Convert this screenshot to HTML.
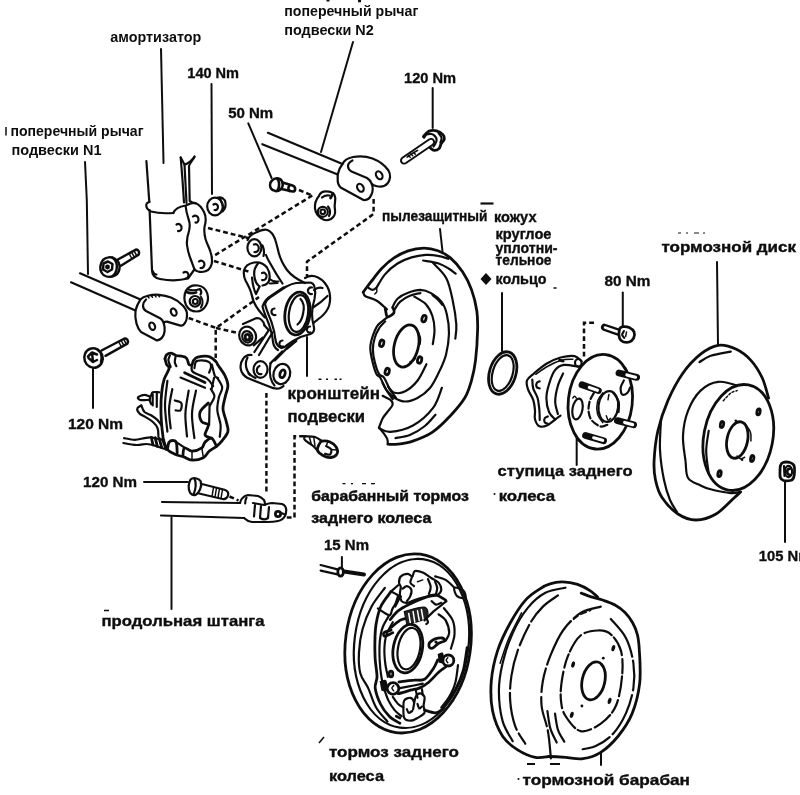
<!DOCTYPE html>
<html><head><meta charset="utf-8"><title>Rear suspension</title>
<style>
html,body{margin:0;padding:0;background:#fff;}
body{width:800px;height:795px;overflow:hidden;font-family:"Liberation Sans",sans-serif;}
svg{display:block;}
text{font-family:"Liberation Sans",sans-serif;fill:#111;}
.t{font-size:14.3px;font-weight:bold;}
.b{font-size:14.6px;font-weight:bold;stroke:#111;stroke-width:.35px;}
.bb{font-size:15.5px;font-weight:bold;stroke:#111;stroke-width:.4px;}
.bk{font-size:17px;font-weight:bold;stroke:#111;stroke-width:.4px;}
.bx{font-size:15.5px;font-weight:bold;stroke:#111;stroke-width:.5px;}
.l{stroke:#111;stroke-width:2.0;fill:none;stroke-linecap:round;stroke-linejoin:round;}
.m{stroke:#111;stroke-width:2.2;fill:none;stroke-linecap:round;stroke-linejoin:round;}
.h{stroke:#111;stroke-width:2.8;fill:none;stroke-linecap:round;stroke-linejoin:round;}
.n{stroke:#111;stroke-width:1.5;fill:none;stroke-linecap:round;stroke-linejoin:round;}
.d{stroke:#111;stroke-width:2.5;fill:none;stroke-dasharray:4.800 3;}
.w{fill:#fff;}
.k{fill:#111;}
</style></head><body>
<svg width="800" height="795" viewBox="0 0 800 795">
<defs><filter id="soft" filterUnits="userSpaceOnUse" x="0" y="0" width="800" height="795"><feGaussianBlur stdDeviation="0.45"/></filter></defs>
<rect width="800" height="795" fill="#fff"/>
<g filter="url(#soft)">

<!-- ===== TEXT ===== -->
<g id="labels">
<path d="M328 0 v1.500 M359.500 0 v2.300" stroke="#111" stroke-width="3"/>
<text class="t" x="284.3" y="16" textLength="134" lengthAdjust="spacingAndGlyphs">поперечный рычаг</text>
<text class="t" x="284.3" y="34.5" textLength="89.5" lengthAdjust="spacingAndGlyphs">подвески N2</text>
<text class="t" x="110.3" y="42" textLength="91" lengthAdjust="spacingAndGlyphs">амортизатор</text>
<text class="b" x="187.3" y="77.800" textLength="51.700" lengthAdjust="spacingAndGlyphs">140 Nm</text>
<text class="b" x="228.2" y="118" textLength="45" lengthAdjust="spacingAndGlyphs">50 Nm</text>
<text class="b" x="404" y="83" textLength="52" lengthAdjust="spacingAndGlyphs">120 Nm</text>
<path d="M6 127 v8.500" stroke="#111" stroke-width="1.500"/>
<text class="t" x="10.5" y="135.500" textLength="133" lengthAdjust="spacingAndGlyphs">поперечный рычаг</text>
<text class="t" x="11.5" y="154.800" textLength="90" lengthAdjust="spacingAndGlyphs">подвески N1</text>
<text class="b" x="68" y="429" textLength="55" lengthAdjust="spacingAndGlyphs">120 Nm</text>
<text class="b" x="83" y="487" textLength="54" lengthAdjust="spacingAndGlyphs">120 Nm</text>
<text class="bb" x="101.500" y="625.700" textLength="163" lengthAdjust="spacingAndGlyphs">продольная штанга</text>
<path d="M104 610.500 h5" stroke="#111" stroke-width="1.500"/>
<path d="M318.500 379.300 h3 M326 379.300 h2 M334.500 379.300 h2.500 M339.500 379.300 h2" stroke="#111" stroke-width="1.400"/>
<text class="bk" x="287.500" y="398.700" textLength="92.500" lengthAdjust="spacingAndGlyphs">кронштейн</text>
<text class="bk" x="287.500" y="422" textLength="77.500" lengthAdjust="spacingAndGlyphs">подвески</text>
<text class="bx" x="311.300" y="501.200" textLength="157.500" lengthAdjust="spacingAndGlyphs">барабанный тормоз</text>
<text class="bx" x="311.300" y="523" textLength="120" lengthAdjust="spacingAndGlyphs">заднего колеса</text>
<path d="M342.500 483.700 h3 M351 483.700 h2 M362 483.700 h4 M371 483.700 h4" stroke="#111" stroke-width="1.300"/>
<text class="b" x="324" y="549.500" textLength="45" lengthAdjust="spacingAndGlyphs">15 Nm</text>
<text class="bb" x="382" y="220.500" textLength="105.500" lengthAdjust="spacingAndGlyphs">пылезащитный</text>
<text class="bb" x="494" y="222" textLength="42.500" lengthAdjust="spacingAndGlyphs">кожух</text>
<path d="M480.500 203.500 H493.500" stroke="#111" stroke-width="2.200"/>
<text class="bb" x="495.500" y="239" textLength="56" lengthAdjust="spacingAndGlyphs">круглое</text>
<text class="bb" x="495.500" y="252.500" textLength="62" lengthAdjust="spacingAndGlyphs">уплотни-</text>
<text class="bb" x="495.500" y="265" textLength="56" lengthAdjust="spacingAndGlyphs">тельное</text>
<text class="bb" x="495.500" y="283.500" textLength="51" lengthAdjust="spacingAndGlyphs">кольцо</text>
<path class="k" d="M486 273 L491.500 279 L486 285 L480.500 279Z"/>
<path d="M553.500 288 h3" stroke="#111" stroke-width="1.500"/>
<text class="b" x="604.500" y="285.600" textLength="46" lengthAdjust="spacingAndGlyphs">80 Nm</text>
<text class="bb" x="661.500" y="251.500" textLength="134.500" lengthAdjust="spacingAndGlyphs">тормозной диск</text>
<path d="M678 233 h3 M686 233 h2 M694 233 h5 M703 233 h2" stroke="#111" stroke-width="1.200"/>
<text class="bb" x="497.500" y="476.300" textLength="135" lengthAdjust="spacingAndGlyphs">ступица заднего</text>
<text class="bb" x="498.700" y="500.500" textLength="56.500" lengthAdjust="spacingAndGlyphs">колеса</text>
<circle class="k" cx="494.500" cy="494" r="1"/>
<text class="b" x="758.8" y="561" textLength="52.5" lengthAdjust="spacingAndGlyphs">105 Nm</text>
<text class="bb" x="329" y="756.500" textLength="130" lengthAdjust="spacingAndGlyphs">тормоз заднего</text>
<text class="bb" x="329" y="781" textLength="55" lengthAdjust="spacingAndGlyphs">колеса</text>
<path d="M324 737 l-5 6" stroke="#111" stroke-width="1.500"/>
<text class="bb" x="522.500" y="784.500" textLength="167.500" lengthAdjust="spacingAndGlyphs">тормозной барабан</text>
<path d="M527 764 h8 M550 764 h10" stroke="#111" stroke-width="1.800"/>
<circle class="k" cx="518.500" cy="779" r="1"/>
</g>

<!-- ===== LEADERS ===== -->
<g id="leaders" class="l">
<path d="M161 49 L163.5 163"/>
<path d="M85 162 L86.8 200 L88 274"/>
<path d="M211.5 84 L212 194"/>
<path d="M248.3 123.3 L271.6 178"/>
<path d="M353 42 L321 152"/>
<path d="M432.7 88 V128"/>
<path d="M440 229 L442.5 251.5"/>
<path d="M502 293 V351"/>
<path d="M622.8 292.6 V326"/>
<path d="M717 262 L718 345"/>
<path d="M785 481 V542"/>
<path d="M576.7 436 V465"/>
<path d="M307 337 V376"/>
<path d="M93 368.5 V408"/>
<path d="M144 482 H188"/>
<path d="M171.5 517.5 V609"/>
<path d="M341.9 557 V568"/>
<path d="M601 752 V765"/>
</g>

<!-- ===== DASHED ===== -->
<g id="dashed" class="d">
<path d="M312.3 195.500 L212 257"/>
<path d="M299 190 L312.300 195.500"/>
<path d="M208 228 L248 238"/>
<path d="M214 261 L250 272"/>
<path d="M373.6 199 V214 L307 261.6 V276"/>
<path d="M188.7 318 L216 328 L259 297"/>
<path d="M216 328 L238 333"/>
<path d="M215.7 330 V358"/>
<path d="M266.4 393 V494"/>
<path d="M229.500 496.500 L238.500 500.500"/>
<path d="M304 436.300 H294.500 V517.500 H285"/>
<path d="M594 322.8 H584 V358"/>
</g>

<!-- shock absorber -->
<g id="shock" class="m">
<path d="M146.4 161 L149.3 202"/>
<path d="M149.5 202 C144.5 203 145.5 209 151 211.5 C158 213.5 166 213.5 173.3 213"/>
<path d="M149.6 210 L152 270 C152 275 155 278 160 279 C168 280.5 180 280.5 188 278.5 L194 270"/>
<path d="M173.3 213 C175 208.5 180 206.5 185.6 205.5 C189 204 192 202.5 195.4 203 C199 204.5 202 208 204 212 C206.5 217 206 222 204.5 227 C204 231 204.5 235 205.5 239 C207 244 209.5 248 210.5 252 C212 256.500 212.5 261 211.500 264.500 C210.500 268.500 207 271.500 202 272 C198.500 272 196 271 194.500 269.500"/>
<path d="M185.6 206 C186 210 187 214.500 188.5 219 C190 223 190 227 189 231 C187.5 235.500 186.500 240 187 245 C187.5 250 189 255 191 260 C192.500 264 193.500 267 194.600 269.500"/>
<path d="M180.7 157.500 L182.500 180 L184 202.500"/>
<path d="M180.7 157.500 L184.500 164.500 L186.500 203"/>
<path d="M184.500 164.500 C188 164 192.500 160 194.500 156.500"/>
<path d="M194.500 157 C192 161 189.500 164 189 166 L189.700 201 C192 202.500 193.500 203 195.400 203.500"/>
<path d="M176.500 224.500 C179 223 182 225 181.500 228.500 C181 230.500 179.500 231.500 178 231"/>
<path d="M193 216.500 C195.500 214.500 198.500 216 198.500 219.500 C198.500 221.500 197 223 195.500 222.500"/>
<path d="M199 261.500 C201.500 259.500 204.500 261.500 204.500 264.500 C204 267 202.500 268.500 200.500 268"/>
<path d="M183.500 272.500 C186 271 188.500 272.500 188.500 275.500 C188 277.500 187 278.500 185.500 278.500"/>
<path d="M152.500 271 C153.500 273.500 155 274.500 156.500 274.500"/>
</g>
<!-- nut 140 -->
<g id="nut140" class="m">
<ellipse cx="215" cy="206.500" rx="7.800" ry="8.800" class="w"/>
<path d="M217 197.800 C221 196.500 225 198.500 225.500 203 C226 207 224 210 222.500 211.500"/>
<path d="M220 198 L223.500 208"/>
<path d="M213.500 204.500 C215.500 203 218 204.500 218 207 C218 209 216.500 210.500 214.500 210"/>
</g>
<!-- rod N2 -->
<g id="rodN2" class="m">
<path d="M267.9 132.800 L342.500 164"/>
<path d="M262.300 144.200 L337.700 174.500"/>
<path d="M342.500 164 C344 160.500 348 158 353 157 C359 156 367 156.500 372.500 158.500 C379 161 385 165.500 388.500 170.500 C391 174.500 390.500 180 387.500 183.500 C385 186.500 380 187 376 186 C374 185.500 372.500 184.500 371.700 183.800 C373 187 373 191 371.500 194.500 C370 198 367 200.500 363.500 200 L340.600 187.500 C338.500 185.500 337.500 182 337.700 179 L337.700 174.500 C338.500 171 340 167 342.500 164Z"/>
<path d="M352.500 160.500 C349.500 162 347.800 164.500 348 166.500 C348.300 169 349.500 170.500 351.500 171.500 L367 178 C369.500 179.500 371 181.500 371.700 183.800"/>
<ellipse cx="379.200" cy="175.300" rx="3" ry="4.200" transform="rotate(-30 379.2 175.3)"/>
<ellipse cx="360.400" cy="187.800" rx="3" ry="4.200" transform="rotate(-30 360.4 187.8)"/>
</g>
<!-- bolt 50 -->
<g id="bolt50" class="m" style="stroke-width:2.600">
<path d="M272 180.500 C274.500 177.500 279.500 177.500 281.500 180.500 C283.500 183.500 283 187.500 280.500 189.500 C277.500 192 273 191.500 271 188.500 C269.500 186 270 182.500 272 180.500Z"/>
<path d="M277 178.500 C279.500 180.500 280 186.500 277.500 190.500"/>
<path d="M282.500 182.500 L292.500 185.500 C296 186.500 296 191.500 292.500 191.500 L281.500 189"/>
<path d="M289.500 185.500 C288 187 288 189.500 289.500 191"/>
</g>
<!-- bushing near N2 -->
<g id="bushN2" class="m">
<path d="M318.900 196 C320 193 323 191.300 326 191.300 C329.500 191.300 333 192.500 334.500 195 C335.500 197 335.500 200 335 202.500 C334.500 205 334.500 207.500 335 210 C335.500 213.500 334 217 331 219 C328 220.500 324 220.500 321.500 218.500 C318 216 315.500 212.500 315 208.500 C314.500 204 316 199.500 318.900 196Z"/>
<path d="M322 197.500 C324 195.500 327 195 329.500 195.500"/>
<path d="M333 193.500 L330.500 198" class="h"/>
<circle cx="322.800" cy="211.800" r="5"/>
<circle cx="322.800" cy="211.800" r="2.300"/>
<path d="M328 206.500 C330 209 330.500 213 329 216"/>
</g>

<!-- rod N1 -->
<g id="rodN1" class="m">
<path d="M80 273.300 L140.500 299.400"/>
<path d="M71 282.300 L135.500 310.500"/>
<path d="M140.500 299.400 C142 297.500 144.500 296.500 147 296 C151 295 155 294.500 159 294.800 C163 295.200 167.500 296.200 171 297.500 C176 299.500 180 302.500 183 305.700 C185.500 308.500 187 311 187 314 C187 317 186.800 320 185.500 322 C184.500 324 182.800 326 180.500 325.600 L167 321.600 C165.500 321.500 164.500 322 163.600 322.600 C164.500 325.500 165 328.500 164.600 331 C164.300 333.500 163.700 335.500 162.500 337 C161 339 159 340.500 156.500 340.300 L141 332 C139 330 137.500 327 136.500 323.600 C135.500 320 135 315 135.500 310.500 C136.500 306.500 138.500 302.500 140.500 299.400Z"/>
<path d="M146 299.500 C144 301.500 143 303.500 143 305.500 C143 308 144 309.800 146 311 L160.500 318.500 C162 319.500 163 321 163.600 322.600"/>
<ellipse cx="173.700" cy="312.100" rx="2.700" ry="3.800" transform="rotate(-25 173.7 312.1)"/>
<ellipse cx="152.200" cy="326.200" rx="2.700" ry="3.800" transform="rotate(-25 152.2 326.2)"/>
<path class="n" d="M147.500 296 l1.500 2 M151 295.200 l1.500 2 M154.500 294.800 l1.500 2 M158 294.800 l1.500 2"/>
</g>
<!-- bolt upper-left -->
<g id="boltUL" class="m" style="stroke-width:2.500">
<path d="M117 260 L135.500 249.800 C138 249 140 252 138.500 254.800 L120.500 266"/>
<path class="n" d="M129 253.300 l2.800 5.200 M131.500 252 l2.800 5.200 M134 250.600 l2.800 5.200"/>
<path d="M103 260 C106 257 111 256.500 114.500 258.500 C118 260.500 120 264.500 119.500 268.500 C119 272.500 116 275.500 112 276.500 C108 277.500 103.500 276 101.500 272.500 C99.500 269 100 263.500 103 260Z"/>
<path d="M112.500 257.800 C116 260 118 265 116.500 270 C115.800 272.500 114.500 274.500 112.800 276"/>
<path d="M103.500 263.500 L108 261.500 L112.500 264 L112 269.500 L107.500 272 L103 269.500Z"/>
<circle cx="107.500" cy="267" r="1.200" class="k"/>
</g>
<!-- bolt lower-left -->
<g id="boltLL" class="m" style="stroke-width:2.500">
<path d="M101.500 350.500 L124.500 338.500 C127 338 129 341 127.400 343.700 L105.500 355.800"/>
<path class="n" d="M118.500 341.500 l2.800 5.200 M121 340.200 l2.800 5.200 M123.500 338.900 l2.800 5.200"/>
<ellipse cx="93.500" cy="358" rx="9.200" ry="9.800" transform="rotate(-20 93.5 358)"/>
<path d="M97.500 349.500 C101 352 102.500 357 101 362"/>
<path d="M88 356.500 L92 352.500 L97 354.500 M88.500 358 L93 362 L97 360 M92 352.500 L93 362"/>
</g>
<!-- bushing near N1 -->
<g id="bushN1" class="m">
<path d="M186 290.500 C188.500 286.500 193.500 284.800 198 285.500 C202.500 286.200 206 289.500 207.300 293.500 C208.500 297.500 208 302 206 305.500 C204 309 200.500 311.500 196.500 311.500 C192 311.500 188 309 186 305 C184 300.500 184 295 186 290.500Z"/>
<path d="M188 289.500 C191.500 290.500 196 290.500 200 289 C201.500 291 201.500 293 200.500 294.500"/>
<circle cx="195" cy="301.300" r="5.300"/>
<circle cx="195.300" cy="301.500" r="2.500"/>
<path d="M201 297 C203 300 203 304.500 201 307.500"/>
<path class="h" d="M186.500 292 C190 293.500 193 293.500 196 292.500"/>
</g>
<!-- knuckle -->
<g id="knuckle" class="m">
<!-- upper arm -->
<path d="M247.600 240 C249 236.500 252 234 256 232.500 C260 230.500 264 229 267.500 230 C271 231.500 273.500 235 275 239 C276.500 243.500 277.500 248 278.500 252 C280 258 283 264.500 287 270 C291 275 297 279.500 305 283"/>
<ellipse cx="254.400" cy="247.800" rx="7" ry="8.600" class="w"/>
<path d="M254 244.500 C256.500 243.500 259 245.500 258.800 248.500 C258.600 251 256.500 252.500 254.500 252"/>
<path d="M262.500 245.500 C264 249 264.500 252.500 263.500 256 M266 255 C267 258 268.500 260.500 270 263 C273 268.500 276 274 282.500 283.500"/>
<!-- second boss -->
<path d="M244 270.500 C245 266.500 249 263.500 254 262.500 C259 261.800 264 263.500 267 267.500 C269 270.500 270 275 269.500 279 C269 282.500 266 285 262.500 285.500"/>
<path d="M262 273 C264.500 272 267 274 266.500 277 C266 279.500 264 280.500 262 280"/>
<path d="M258 263.500 C255 267 253.500 272 254.500 277 C255 281 257 284.500 259.500 286.500"/>
<path d="M244 270.500 C243.500 274 244 277.500 245.500 280.500 C248 285 250.500 289.500 251.500 294 C252.500 299.500 255 305.500 259 310.500 C261 313 263 315.500 265 317.500"/>
<path d="M252 277.500 C252.500 283 253.500 289 256 294 M259.500 286.500 L256 294"/>
<path d="M269.500 279 C272 281 275 282 278.500 281.500 M270 283.500 L277.500 283"/>
<!-- flange -->
<path d="M265 304 C266 301 268 298.500 270.500 297 L285.500 287 C289 285 292.500 283.500 296 283 L309 282.500 C312 282.500 314 284.500 314.500 287 C315.500 291 315.500 295 314.500 299 C313 304 312 309 312 314 C312 319 313 323.500 314 327.500 C314.500 330.500 313 333 310.500 334 L300.500 337 C295 339.500 290.500 342.500 286.500 345.500 C284.500 347.500 282.500 348.500 280.500 347.500 C277.500 346 276 343.500 275.500 340 C275 334.500 273.500 328 271.500 322 C269.500 316.500 266.500 310.500 265 304Z"/>
<path d="M262.500 306.500 C263.500 303.500 265.500 300 268 298 L283.500 287.500 M262.500 306.500 C264 313 267 319 269 324.500 C271 330.500 272.500 336.500 273 342 C273.500 345.500 275.500 348.500 278 350"/>
<!-- bore -->
<ellipse cx="297.500" cy="313.500" rx="12.500" ry="21.500" transform="rotate(8 297.5 313.5)" class="h"/>
<ellipse cx="298.500" cy="313.500" rx="9.500" ry="18.500" transform="rotate(8 298.5 313.500)"/>
<path d="M300.500 299 C303.500 302 304.500 308 303 314 C302 319 300 322.500 297.500 324.500"/>
<!-- flange holes -->
<path d="M312 287.500 C309.500 287 307.500 289 308 291.500 C308.500 293.500 310 294.500 312 294"/>
<path d="M274.500 308.500 C272.500 308.500 271 310.500 271.500 312.500 C272 314.500 273.500 315.500 275.500 315"/>
<path d="M310 326.500 C308 326.500 306.500 328.500 307 330.500 C307.500 332 309 333 310.500 332.500"/>
<path d="M282.500 340.500 C280.500 340.500 279 342.500 279.500 344.500 C280 346 281.500 347 283 346.500"/>
<!-- body behind flange -->
<path d="M305 278 C309 275.500 314 275.500 318 277.500 C323 280 327 285 329 290.500 C330.500 295.500 330.500 301 329 306 C327.500 310.500 324.500 314 321 317 C318.500 319 316 321 314 322.500"/>
<path d="M313.500 307.300 C318 304.500 323 300.500 327.500 296"/>
<path d="M314 290 C317 287.500 319.500 287 322.500 288"/>
<!-- lower bush -->
<path d="M243 324 L256 318.300 C260 317.500 263.500 320.500 264.500 325.500"/>
<path d="M253.700 345.300 L262.700 337.700"/>
<ellipse cx="247.600" cy="336" rx="8.300" ry="9.500" transform="rotate(-20 247.6 336)" class="w"/>
<ellipse cx="247.300" cy="336.800" rx="5" ry="5.800" transform="rotate(-20 247.3 336.8)"/>
<ellipse cx="247.500" cy="337.200" rx="2.300" ry="2.800" class="h"/>
<!-- lower arm -->
<path d="M268.800 330.200 L254.400 352"/>
<path d="M272.500 332.500 L259 355"/>
<path d="M264.500 325.500 L268.800 330.200"/>
<!-- lower lugs -->
<path d="M251.500 355 C248 354.500 245 356 243 359 C240.500 362.500 240 367.500 241.500 371.500 C243 375 246 377.500 250 379 L260 383 L269 386.500 C272 388 275.500 389 279 388.500 C281 388 282.500 387 283.500 386"/>
<path d="M247.500 357.500 C245.500 361.500 245.500 367 247.500 371 C249 374 252 376.500 255.500 378"/>
<ellipse cx="260.500" cy="369.500" rx="7" ry="8.300" class="w"/>
<path d="M259.500 366 C257.500 367 256.500 369 257 371.500 C257.500 373.500 259.500 374.500 261.500 374"/>
<path d="M248.500 373.500 l1.500 1.500"/>
<ellipse cx="281.800" cy="374" rx="8.300" ry="10.200" transform="rotate(15 281.8 374)" class="w"/>
<path d="M270.500 363.500 C269.500 368 269.500 373 270.500 377.500 C271.500 381 272.500 383.500 274.500 385.500"/>
<ellipse cx="282.500" cy="373.800" rx="2.500" ry="4" transform="rotate(20 282.5 373.8)" class="h"/>
<path d="M282.400 351.300 L270.300 363.400 M289.900 345.300 L274.800 360.400"/>
<path d="M286.900 348.300 C289 347 292.500 343.500 296 340.800" class="h"/>
</g>

<!-- lower rod / bolt -->
<g id="lowerrod" class="m">
<path d="M162 502 L240 503"/>
<path d="M161 515.500 L244 518"/>
<path d="M240 503 C240.500 500.500 241.200 499 242.500 498 C244 496.500 246 495.300 248 495 L258 496 C260.500 497 262.500 498.500 264 500 C264.800 501.500 265 503.300 265 505"/>
<path d="M246.500 497.500 C245.500 499.500 245.200 501.500 245.200 503.500"/>
<path d="M253 503 L264 505 C267 504 269.500 503.200 272 503 L282 504 C284.500 505 286 507 286.200 509.500 C286.300 512 285.800 514.500 285 516 C283.500 518.500 281 520.500 278 521 C274.500 521.800 271 522 268 522 L252 522 C249 521.500 246 520 244 518"/>
<path d="M255 505 L254 516.500 M261 506 L260 518 C262.500 519.500 266 519.500 268 518 L269 507"/>
<circle cx="278" cy="514" r="2.600" class="h"/>
<path d="M280 512.500 L285 514.500"/>
<!-- bolt -->
<path d="M190.500 479.500 C192 478.200 194.500 478 196.500 478.500 C198.500 479 200 480 200.800 481.500 C201.500 484 201.200 487 200 489.500 C199 492 197.500 494 195.500 495 C193.500 495.500 191.500 494.500 190.200 493 C189 491 188.500 488.500 188.700 486 C189 483.500 189.500 481.500 190.500 479.500Z"/>
<path d="M194.500 478.500 C196 482 196 488.500 193.500 494.500"/>
<path d="M200.800 483.800 L224.500 489.800 C227.500 490.800 228.800 493 228 495.500 C227.200 498 225 499.500 222.500 499 L199 493.500"/>
<path class="n" d="M213.500 487.300 l-1.500 9 M216.500 488 l-1.500 9 M219.500 488.700 l-1.500 9 M222.500 489.500 l-1.500 9"/>
</g>
<!-- small bolt near (320,441) -->
<g id="smallbolt">
<path class="m" d="M305.0 436.2 C306.7 436.4 312.2 436.2 315.0 437.0 C317.8 437.8 320.8 440.5 322.0 441.2"/>
<path class="m" d="M305.0 436.2 C304.9 436.7 304.0 437.9 304.2 438.8 C304.5 439.6 304.9 440.1 306.2 441.2 C307.6 442.4 310.6 444.0 312.5 445.5 C314.4 447.0 316.7 449.7 317.5 450.5"/>
<path class="n" d="M309.5 437.5 L311.2 443.8"/><path class="n" d="M313.8 437.5 L315.0 446.2"/>
<path class="h w" d="M322.0 441.2 C323.9 440.8 327.6 441.0 330.0 442.0 C332.4 443.0 335.1 445.0 336.2 447.0 C337.4 449.0 337.9 452.0 337.0 453.8 C336.1 455.5 333.1 457.2 330.8 457.5 C328.4 457.8 325.2 456.7 323.0 455.5 C320.8 454.3 318.2 452.2 317.5 450.5 C316.8 448.8 318.0 446.5 318.8 445.0 C319.5 443.5 320.1 441.8 322.0 441.2Z"/>
<path class="m" d="M326.2 446.2 C327.1 446.8 330.6 448.1 331.2 449.5 C331.9 450.9 331.0 453.8 330.0 454.5 C329.0 455.2 325.8 453.9 325.0 453.8"/>
<path class="n" d="M327.5 442.5 L326.2 446.2"/><path class="n" d="M331.2 449.5 L336.5 450.0"/>
</g>

<!--P4-->
<!-- dust shield -->
<g id="shield">
<path class="h" d="M363.2 292.2 C364.5 290.5 368.0 285.6 371.1 281.7 C374.2 277.7 377.9 272.4 381.7 268.5 C385.5 264.5 389.6 260.8 394.0 257.9 C398.4 255.0 403.1 252.5 408.1 250.8 C413.1 249.2 419.0 248.2 424.0 248.2 C428.9 248.2 433.6 249.2 438.0 250.8 C442.4 252.5 446.3 254.4 450.4 257.9 C454.5 261.4 459.2 266.7 462.7 272.0 C466.2 277.3 469.2 283.1 471.5 289.6 C473.8 296.0 475.8 304.0 476.8 310.7 C477.8 317.5 477.8 321.7 477.6 330.0 C477.4 338.3 476.5 352.2 475.5 360.7 C474.5 369.2 473.1 374.7 471.4 380.8 C469.6 386.9 468.5 391.7 465.0 397.5 C461.5 403.3 456.0 409.7 450.6 415.5 C445.2 421.3 438.8 427.8 432.5 432.1 C426.2 436.4 418.6 439.1 412.8 441.1 C407.0 443.1 401.9 443.7 397.7 444.2 C393.5 444.7 389.5 444.2 387.9 444.2"/>
<path class="m" d="M376.4 287.8 C377.9 285.5 381.7 278.1 385.2 274.1 C388.7 270.0 393.1 266.3 397.5 263.5 C401.9 260.7 406.9 258.8 411.6 257.4 C416.3 255.9 421.3 255.2 425.7 254.9 C430.1 254.6 434.2 255.1 438.0 255.8 C441.9 256.4 446.8 258.3 448.6 258.8"/>
<path class="m" d="M363.2 292.2 C363.6 292.9 363.3 294.9 365.5 296.3 C367.7 297.7 372.8 298.3 376.4 300.5 C380.0 302.7 385.2 307.8 387.0 309.3"/>
<path class="m" d="M368.5 287.8 C369.2 288.2 371.2 289.9 372.5 289.9 C373.9 289.9 375.8 288.2 376.4 287.8"/>
<path class="n" d="M376.4 287.8 C376.5 288.5 377.1 290.7 376.8 291.7 C376.5 292.7 375.0 293.6 374.7 294.0"/>
<path class="h" d="M385.2 308.1 C385.4 309.0 385.7 311.9 386.1 313.4 C386.5 314.8 386.5 317.0 387.9 316.9 C389.2 316.8 393.1 314.3 394.0 312.8 C394.9 311.4 393.3 308.9 393.1 308.1"/>
<path class="m" d="M423.1 260.5 C425.6 261.0 433.8 261.9 438.0 263.2 C442.3 264.5 445.7 266.7 448.6 268.5 C451.5 270.2 454.5 272.9 455.7 273.7"/>
<path class="m" d="M433.2 263.1 C435.4 265.6 443.1 272.0 446.3 278.2 C449.6 284.4 451.0 292.7 452.7 300.4 C454.4 308.1 455.9 318.1 456.3 324.5 C456.7 330.9 455.5 336.2 455.3 338.6"/>
<path class="m" d="M392.3 307.5 C393.1 306.1 394.9 301.2 397.5 298.7 C400.2 296.3 404.3 294.2 408.1 292.8 C411.9 291.3 416.6 289.9 420.4 289.9 C424.3 290.0 427.5 291.1 431.0 293.1 C434.5 295.1 438.9 298.4 441.6 301.9 C444.2 305.4 445.6 309.0 446.8 314.2 C448.1 319.5 449.1 326.9 449.0 333.6 C448.8 340.4 447.6 348.3 446.0 354.7 C444.3 361.2 441.6 366.8 438.9 372.3 C436.3 377.9 433.6 383.7 430.0 388.0 C426.4 392.3 421.6 395.8 417.5 398.0 C413.4 400.2 409.1 401.5 405.3 401.5 C401.5 401.5 397.9 399.9 394.7 398.0 C391.5 396.1 388.4 392.5 386.4 390.0 C384.4 387.5 383.2 384.2 382.6 383.0"/>
<path class="m" d="M394.9 309.0 C395.8 307.7 397.7 303.8 400.2 301.6 C402.7 299.4 406.5 297.2 409.9 295.8 C413.2 294.3 418.7 293.5 420.4 293.1"/>
<path class="h" d="M432.8 294.9 C433.8 295.8 437.3 298.5 438.9 300.2 C440.5 301.8 441.9 303.8 442.4 304.6"/>
<path class="m" d="M414.3 296.6 C416.2 297.9 422.7 300.8 425.7 304.0 C428.7 307.3 430.9 311.7 432.4 316.0 C433.9 320.3 434.5 325.4 434.5 330.1 C434.6 334.8 433.1 341.8 432.8 344.2"/>
<path class="m" d="M387.9 316.9 C386.2 318.2 380.7 321.7 378.2 324.8 C375.7 327.9 374.2 331.9 372.9 335.7 C371.6 339.5 370.3 343.4 370.3 347.7 C370.2 352.0 371.5 357.4 372.5 361.8 C373.6 366.2 375.1 371.5 376.4 374.1 C377.7 376.8 378.6 375.0 380.3 377.7 C381.9 380.4 384.4 386.8 386.5 390.3 C388.6 393.9 391.8 397.7 392.8 399.1"/>
<path class="m" d="M385.2 321.3 C384.2 322.5 380.8 325.5 379.1 328.3 C377.3 331.1 375.7 334.5 374.7 338.0 C373.6 341.5 372.9 345.5 372.9 349.5 C372.9 353.4 373.6 357.7 374.7 361.8 C375.7 365.9 377.5 371.5 379.1 374.1 C380.6 376.8 382.1 375.0 384.0 377.7 C385.9 380.4 388.3 387.0 390.3 390.3 C392.3 393.6 394.9 396.2 395.8 397.4"/>
<ellipse class="h" cx="406.3" cy="346" rx="12" ry="21.5" transform="rotate(14 406.3 346)"/>
<path class="n" d="M417.8 331.0 C418.2 332.1 420.1 335.8 420.4 338.0 C420.8 340.2 420.1 343.1 420.1 344.2"/>
<path class="n" d="M409.9 361.8 C410.5 361.5 412.5 361.0 413.4 360.4 C414.3 359.8 415.2 358.6 415.5 358.3"/>
<ellipse class="h" cx="424.0" cy="318.6" rx="2" ry="3.3" transform="rotate(15 424.0 318.6)"/>
<ellipse class="h" cx="381.7" cy="343.3" rx="2" ry="3.3" transform="rotate(15 381.7 343.3)"/>
<ellipse class="h" cx="419.6" cy="360.0" rx="2" ry="3.3" transform="rotate(15 419.6 360.0)"/>
<ellipse class="h" cx="387.2" cy="371.5" rx="2" ry="3.3" transform="rotate(15 387.2 371.5)"/>
<path class="m" d="M382.6 395.8 C384.0 396.6 389.2 398.9 390.9 400.4 C392.5 401.9 393.1 403.0 392.5 405.0 C391.9 407.0 388.6 410.2 387.0 412.5 C385.4 414.8 383.9 416.0 382.6 418.5 C381.3 421.0 379.6 426.0 379.0 427.5"/>
<path class="m" d="M387.9 444.2 C387.8 443.3 387.9 440.8 387.2 438.9 C386.5 437.0 384.9 434.9 383.5 433.0 C382.1 431.1 379.7 428.4 378.9 427.5"/>
<path class="m" d="M379.0 428.1 C380.9 428.7 384.7 432.2 390.3 431.8 C396.0 431.4 405.8 429.5 413.0 425.5 C420.1 421.6 428.3 414.2 433.1 407.9 C437.9 401.6 440.4 391.2 441.9 387.8"/>
<path class="m" d="M388.0 386.5 C389.1 387.6 391.8 392.0 394.7 392.8 C397.6 393.6 401.5 393.3 405.3 391.3 C409.1 389.3 413.9 385.3 417.4 380.8 C420.9 376.3 424.9 367.0 426.4 364.2"/>
<path class="m" d="M395.5 438.1 C397.9 437.6 404.9 437.1 409.8 435.1 C414.7 433.1 420.6 429.4 424.9 426.0 C429.2 422.6 433.7 416.6 435.5 414.7"/>
</g>
<!-- o-ring -->
<g id="oring">
<ellipse class="h" cx="502.7" cy="373" rx="13.2" ry="21.8" transform="rotate(17 502.7 373)"/>
<ellipse class="m" cx="502.7" cy="373" rx="10" ry="18.4" transform="rotate(17 502.7 373)"/>
</g>
<!--/P4-->
<!--P5-->
<!-- hub -->
<g id="hub">
<path class="m" d="M581.6 361.4 C580.5 360.5 578.1 356.8 574.6 356.1 C571.1 355.5 565.2 356.3 560.5 357.5 C555.8 358.8 550.8 361.1 546.4 363.7 C542.0 366.3 537.3 370.6 534.1 373.4 C530.9 376.2 528.1 377.8 527.0 380.4 C526.0 383.1 526.9 386.0 527.9 389.2 C529.0 392.5 532.0 396.3 533.2 399.8 C534.4 403.3 534.7 407.1 535.0 410.4 C535.3 413.6 534.2 416.5 535.0 419.2 C535.7 421.8 537.3 425.2 539.4 426.2 C541.4 427.2 544.7 426.5 547.3 425.3 C549.9 424.2 553.0 421.1 555.2 419.5 C557.4 417.9 559.6 416.3 560.5 415.7"/>
<path class="m" d="M532.3 379.6 C532.5 381.0 532.3 385.3 533.2 388.4 C534.1 391.4 536.6 394.4 537.6 398.0 C538.6 401.7 539.0 406.7 539.4 410.4 C539.7 414.0 539.7 418.4 539.7 420.1"/>
<path class="n" d="M535.8 374.3 C537.9 372.9 543.9 368.3 548.2 366.0 C552.4 363.6 557.3 361.3 561.4 360.2 C565.5 359.1 570.9 359.5 572.8 359.3"/>
<ellipse class="m" cx="578.3" cy="362.8" rx="3.3" ry="3.8"/>
<path class="m" d="M539.7 381.3 C539.2 381.6 537.2 382.1 536.7 383.1 C536.2 384.0 536.2 386.2 536.7 387.1 C537.2 388.0 539.2 388.2 539.7 388.4"/>
<path class="m" d="M547.8 416.5 C547.3 416.8 545.2 417.3 544.7 418.3 C544.1 419.3 544.2 421.5 544.7 422.3 C545.1 423.2 547.0 423.4 547.5 423.6"/>
<path class="m" d="M578.1 366.7 C575.8 366.4 567.8 364.4 564.0 364.9 C560.2 365.5 557.7 366.7 555.2 369.9 C552.7 373.0 550.5 379.3 549.1 384.0 C547.6 388.7 546.4 393.3 546.4 398.0 C546.4 402.7 547.6 408.6 549.1 412.1 C550.5 415.7 554.2 418.3 555.2 419.5"/>
<path class="m" d="M563.1 373.4 C562.3 375.4 559.2 381.0 557.9 385.7 C556.5 390.4 555.2 396.9 555.2 401.6 C555.2 406.3 557.4 411.8 557.9 413.9"/>
<path class="h" d="M559.6 360.2 L563.1 361.1"/>
<ellipse class="h w" cx="600.3" cy="401.8" rx="32" ry="47.5" transform="rotate(6.5 600.3 401.8)"/>
<ellipse class="m" cx="608.3" cy="406.5" rx="9.8" ry="15.5" transform="rotate(6 608.3 406.5)"/>
<path class="n" d="M602.8 392.8 C601.9 394.2 598.4 398.0 597.5 401.6 C596.6 405.1 596.6 410.4 597.5 413.9 C598.4 417.4 601.9 421.2 602.8 422.7"/>
<path class="m" d="M594.0 392.8 C593.2 394.2 590.4 398.3 589.6 401.6 C588.7 404.8 588.2 408.9 588.7 412.1 C589.1 415.4 590.1 418.5 592.2 420.9 C594.3 423.3 598.4 426.0 601.0 426.6 C603.6 427.2 606.9 424.8 608.0 424.5" stroke-dasharray="7 3"/>
<path class="m" d="M613.3 392.8 C614.2 394.2 617.7 398.3 618.6 401.6 C619.5 404.8 618.6 410.4 618.6 412.1"/>
<path class="n" d="M608.9 394.5 L608.0 399.8"/>
<path class="n" d="M606.3 415.7 C606.6 416.4 607.3 419.6 608.0 420.1 C608.8 420.5 610.2 418.6 610.7 418.3"/>
<ellipse class="m" cx="577.5" cy="409" rx="5" ry="10.5" transform="rotate(10 577.5 409)"/>
<path class="n" d="M572.8 398.0 C573.1 397.8 574.0 396.3 574.6 396.3 C575.2 396.3 576.1 397.8 576.3 398.0"/>
<path class="m" d="M623.9 380.4 C623.4 381.6 621.0 385.1 620.7 387.5 C620.4 389.8 621.0 393.6 622.1 394.5 C623.2 395.4 626.1 393.9 627.4 392.8 C628.7 391.6 629.6 388.4 630.1 387.5"/>
<path class="n" d="M625.7 368.1 L629.2 376.9"/>
<path d="M619.0 373.0 L636.6 377.4" stroke="#111" stroke-width="6.8" stroke-linecap="round" fill="none"/><path d="M626.9 375.0 L635.5 377.2" stroke="#fff" stroke-width="3.2" stroke-linecap="round" fill="none"/>
<path d="M582.0 384.8 L598.4 390.6" stroke="#111" stroke-width="6.8" stroke-linecap="round" fill="none"/><path d="M589.4 387.5 L597.4 390.3" stroke="#fff" stroke-width="3.2" stroke-linecap="round" fill="none"/>
<path d="M617.4 420.6 L633.6 424.8" stroke="#111" stroke-width="6.8" stroke-linecap="round" fill="none"/><path d="M624.7 422.5 L632.6 424.6" stroke="#fff" stroke-width="3.2" stroke-linecap="round" fill="none"/>
<path d="M585.5 435.4 L603.6 440.7" stroke="#111" stroke-width="6.8" stroke-linecap="round" fill="none"/><path d="M593.7 437.8 L602.6 440.3" stroke="#fff" stroke-width="3.2" stroke-linecap="round" fill="none"/>
<path class="n" d="M578.1 440.3 C579.6 441.3 583.7 445.1 586.9 446.5 C590.1 447.9 595.7 448.4 597.5 448.8" stroke-dasharray="5 3"/>
</g>
<!-- bolt80 -->
<g id="bolt80">
<path d="M604.5 327.3 L619.5 332.5" stroke="#111" stroke-width="7.2" stroke-linecap="round" fill="none"/><path d="M605.0 327.5 L619.5 332.5" stroke="#fff" stroke-width="2.4" stroke-linecap="round" fill="none"/>
<path class="h w" d="M619.5 329.4 C620.1 327.5 621.4 327.0 623.0 326.7 C624.6 326.4 627.3 326.7 629.2 327.6 C631.0 328.5 633.4 330.3 634.1 332.0 C634.8 333.8 634.4 336.5 633.6 338.2 C632.8 339.8 630.9 341.5 629.2 342.0 C627.4 342.6 624.6 342.3 623.0 341.7 C621.4 341.1 620.1 340.2 619.5 338.2 C618.9 336.1 618.9 331.3 619.5 329.4Z"/>
<path class="m" d="M623.9 331.1 C623.6 331.7 622.1 333.5 622.1 334.7 C622.2 335.8 623.9 337.3 624.2 337.8"/>
<path class="n" d="M626.5 332.0 L625.7 336.4"/>
</g>
<!--/P5-->
<!--P6-->
<!-- disc -->
<g id="disc">
<path class="h" d="M768.6 398.1 C767.5 394.8 765.2 384.3 762.3 378.0 C759.3 371.7 755.3 365.2 750.9 360.4 C746.5 355.6 741.3 351.6 735.8 349.1 C730.4 346.5 724.1 344.4 718.2 345.3 C712.4 346.1 706.5 349.5 700.6 354.1 C694.8 358.7 688.5 365.2 683.0 373.0 C677.6 380.7 672.1 391.0 667.9 400.6 C663.7 410.3 660.2 420.8 657.9 430.8 C655.6 440.9 654.5 452.8 654.1 461.0 C653.7 469.2 654.2 473.9 655.5 480.0 C656.8 486.1 658.2 491.8 662.0 497.5 C665.8 503.2 672.3 510.2 678.0 514.0 C683.7 517.8 689.7 520.0 696.0 520.0 C702.3 520.0 709.7 517.7 716.0 514.0 C722.3 510.3 729.9 501.7 734.0 498.0 C738.1 494.3 739.4 493.0 740.5 492.0"/>
<path class="m" d="M730.8 351.6 C727.5 352.3 715.9 354.1 710.7 355.8 C705.5 357.6 701.3 361.1 699.4 362.1"/>
<path class="m" d="M661.0 420.0 C660.8 425.0 659.5 440.0 660.0 450.0 C660.5 460.0 662.3 471.7 664.0 480.0 C665.7 488.3 667.8 494.7 670.0 500.0 C672.2 505.3 675.8 510.0 677.0 512.0"/>
<path class="m" d="M756.0 395.1 C753.5 393.7 747.2 389.0 740.9 386.8 C734.6 384.6 724.9 381.1 718.2 381.8 C711.5 382.4 705.7 385.7 700.6 390.6 C695.6 395.4 691.0 403.1 688.1 410.7 C685.1 418.2 683.4 427.5 683.0 435.8 C682.6 444.2 684.7 454.0 685.5 461.0 C686.4 468.0 685.5 473.9 688.1 478.0 C690.6 482.1 696.9 483.6 700.6 485.5 C704.4 487.4 705.7 488.1 710.7 489.3 C715.7 490.6 725.8 492.7 730.8 493.1 C735.8 493.5 739.2 492.0 740.9 491.8"/>
<ellipse class="h w" cx="738.3" cy="437.5" rx="34.5" ry="53.5" transform="rotate(11 738.3 437.5)"/>
<path class="m" d="M708.7 430.8 C708.3 434.2 706.2 443.8 706.2 450.9 C706.2 458.1 708.3 469.8 708.7 473.6"/>
<ellipse class="h" cx="737.3" cy="440" rx="10.3" ry="18.5" transform="rotate(12 737.3 440)"/>
<path class="n" d="M744.7 423.3 C745.6 424.7 749.4 429.1 750.4 432.1 C751.5 435.0 750.9 439.4 750.9 440.9"/>
<path class="n" d="M737.1 456.0 C737.7 456.5 739.6 458.8 740.9 459.0 C742.1 459.2 744.0 457.5 744.7 457.2"/>
<ellipse class="h" cx="758.5" cy="411.9" rx="1.6" ry="3" transform="rotate(12 758.5 411.9)"/>
<ellipse class="h" cx="722.0" cy="424.5" rx="1.6" ry="3" transform="rotate(12 722.0 424.5)"/>
<ellipse class="h" cx="752.2" cy="458.5" rx="1.6" ry="3" transform="rotate(12 752.2 458.5)"/>
<ellipse class="h" cx="719.5" cy="473.6" rx="1.6" ry="3" transform="rotate(12 719.5 473.6)"/>
<circle class="k" cx="735.8" cy="420.8" r="1.3"/>
<circle class="k" cx="742.1" cy="459.7" r="1.3"/>
<path class="n" d="M723.3 400.6 C724.5 399.4 728.5 394.8 730.8 393.1 C733.1 391.4 736.1 391.0 737.1 390.6" stroke-dasharray="2 2"/>
</g>
<!-- nut105 -->
<g id="nut105">
<path class="h w" d="M780.5 465.5 C781.0 464.1 781.4 463.0 783.0 462.5 C784.6 462.0 788.2 462.0 790.0 462.5 C791.8 463.0 793.2 463.9 794.0 465.5 C794.8 467.1 794.6 469.9 794.5 472.0 C794.4 474.1 794.2 476.6 793.5 478.0 C792.8 479.4 792.2 480.1 790.5 480.5 C788.8 480.9 785.2 481.0 783.5 480.5 C781.8 480.0 780.9 479.1 780.3 477.5 C779.7 475.9 780.0 473.0 780.0 471.0 C780.0 469.0 780.0 466.9 780.5 465.5Z"/>
<ellipse class="m" cx="788.5" cy="471.5" rx="3.6" ry="5.6"/>
<path class="h" d="M790.5 468.5 C790.0 468.7 788.3 468.7 787.8 469.5 C787.3 470.3 787.1 472.6 787.5 473.5 C787.9 474.4 789.6 474.8 790.0 475.0"/>
<path class="m" d="M784.0 466.0 L784.5 476.0"/>
</g>
<!--/P6-->
<!--P7-->
<!-- drum brake -->
<g id="drumbrake">
<ellipse class="h" cx="408.1" cy="643.4" rx="62.6" ry="90" transform="rotate(7.8 408.1 643.4)"/>
<ellipse class="m" cx="411.5" cy="643.4" rx="57" ry="85" transform="rotate(7.8 411.5 643.4)"/>
<path class="m" d="M384.9 587.9 C382.7 590.9 375.4 599.5 371.7 606.3 C368.0 613.2 364.7 621.6 362.5 629.2 C360.4 636.9 359.4 644.8 359.0 652.1 C358.6 659.5 358.7 667.3 360.3 673.3 C361.8 679.3 365.5 682.4 368.2 688.1 C370.8 693.8 372.9 701.9 376.1 707.5 C379.3 713.1 385.6 719.2 387.5 721.6"/>
<path class="h" d="M391.1 591.4 C389.4 593.9 383.3 600.9 380.9 606.3 C378.4 611.8 377.1 618.1 376.1 624.0 C375.1 629.8 375.0 635.7 374.9 641.6 C374.7 647.4 374.9 653.3 375.2 659.2 C375.6 665.0 377.0 672.0 377.0 676.8 C377.0 681.6 374.6 683.6 375.2 688.1 C375.8 692.6 378.2 699.3 380.5 704.0 C382.8 708.7 386.1 713.1 389.3 716.3 C392.5 719.5 398.1 722.2 399.9 723.3"/>
<path class="m" d="M389.3 615.2 C388.2 617.2 384.2 623.1 382.6 627.5 C381.0 631.9 380.3 636.3 379.8 641.6 C379.3 646.8 379.4 653.3 379.6 659.2 C379.9 665.0 380.6 672.0 381.4 676.8 C382.1 681.6 382.8 684.2 384.0 688.1 C385.2 692.1 386.7 696.8 388.4 700.4 C390.2 704.1 392.4 707.5 394.6 710.1 C396.8 712.8 400.5 715.3 401.6 716.3"/>
<path class="m" d="M392.8 622.2 C391.8 624.3 387.9 630.1 386.5 634.5 C385.1 638.9 384.6 643.6 384.4 648.6 C384.2 653.6 384.8 659.8 385.4 664.5 C386.0 669.2 387.5 674.7 387.9 676.8"/>
<path class="m" d="M400.8 596.7 C399.4 598.6 394.7 605.0 392.8 608.1 C390.9 611.2 391.8 615.1 389.3 615.2 C386.8 615.2 379.8 609.6 377.9 608.5"/>
<path class="m" d="M391.1 591.4 L400.8 596.7"/>
<path class="m" d="M398.1 585.2 L391.1 591.4"/>
<path class="k" d="M397.2 594.9 C397.8 595.2 401.0 594.6 400.8 596.7 C400.5 598.7 397.2 605.7 396.0 607.2 C394.8 608.8 394.1 606.2 393.7 606.0Z"/>
<path class="m" d="M399.0 582.6 C399.0 580.8 399.3 577.9 400.8 576.4 C402.2 574.9 405.9 573.8 407.8 573.8 C409.7 573.8 411.0 576.9 412.2 576.4 C413.4 576.0 413.1 571.8 414.8 571.1 C416.6 570.5 420.0 571.4 422.8 572.5 C425.5 573.7 428.9 576.5 431.6 578.2 C434.2 579.8 437.0 580.7 438.6 582.6 C440.2 584.5 441.4 587.6 441.3 589.6 C441.1 591.7 439.3 593.8 437.7 594.9 C436.1 596.0 434.1 595.7 431.6 596.1 C429.1 596.6 425.7 596.9 422.8 597.5 C419.8 598.2 416.6 599.3 414.0 600.2 C411.3 601.1 409.0 602.7 406.9 602.8 C404.9 603.0 402.8 602.5 401.6 601.1 C400.5 599.6 400.0 596.4 399.9 594.0 C399.7 591.7 400.9 588.9 400.8 587.0 C400.6 585.1 399.0 584.3 399.0 582.6Z"/>
<path class="m" d="M402.5 588.7 C403.2 588.3 405.4 586.0 406.9 586.1 C408.4 586.2 410.7 588.0 411.3 589.6 C411.9 591.2 411.2 593.9 410.4 595.8 C409.7 597.7 407.5 600.2 406.9 601.1"/>
<path class="m" d="M412.2 576.4 C411.9 577.4 410.1 581.0 410.4 582.6 C410.7 584.2 413.4 585.5 414.0 586.1"/>
<path class="m" d="M428.0 579.1 C428.5 580.4 430.5 584.5 430.7 587.0 C430.8 589.5 429.2 592.8 428.9 594.0"/>
<path class="m" d="M435.1 581.7 C435.4 582.7 437.1 585.8 437.2 587.9 C437.3 589.9 436.2 593.0 436.0 594.0"/>
<path class="n" d="M417.5 581.7 L422.8 579.9"/>
<path class="h" d="M390.2 619.6 C391.5 618.1 394.7 613.4 398.1 610.8 C401.5 608.1 406.3 605.8 410.4 603.7 C414.5 601.7 418.7 599.9 422.8 598.4 C426.9 597.0 431.3 594.6 435.1 594.9 C438.9 595.2 443.9 599.3 445.7 600.2"/>
<path class="h" d="M391.1 627.5 C392.5 626.3 397.5 621.9 399.9 620.4 C402.2 619.0 404.3 619.0 405.2 618.7"/>
<path class="m" d="M424.5 620.4 C426.0 619.0 430.4 614.3 433.3 611.6 C436.3 609.0 439.9 606.3 442.1 604.6 C444.3 602.8 445.8 601.7 446.5 601.1"/>
<path class="m" d="M431.6 601.1 C432.3 601.7 434.4 604.3 436.0 604.6 C437.6 604.9 440.4 603.1 441.3 602.8"/>
<path d="M404.3 611.6 C407.6 610.9 420.9 606.2 424.5 607.2 C428.2 608.3 429.2 614.9 426.3 617.8 C423.3 620.7 410.1 623.7 406.9 624.8Z" fill="#222" stroke="#111" stroke-width="1.2"/>
<path class="n" d="M408.7 613.4 L410.4 623.1" style="stroke:#fff"/>
<path class="n" d="M413.1 611.6 L414.8 622.2" style="stroke:#fff"/>
<path class="n" d="M417.5 610.8 L419.2 620.4" style="stroke:#fff"/>
<path class="n" d="M421.4 609.5 L423.1 619.0" style="stroke:#fff"/>
<path class="m" d="M426.3 617.8 C426.6 618.5 428.0 621.2 428.0 622.2 C428.0 623.2 426.6 623.7 426.3 624.0"/>
<path class="h" d="M391.1 630.1 C389.9 630.6 385.0 631.7 384.0 632.8 C383.0 633.8 383.4 636.3 384.9 636.3 C386.4 636.3 391.5 633.3 392.8 632.8"/>
<ellipse class="h" cx="407.8" cy="648.6" rx="14.5" ry="24.5" transform="rotate(11 407.8 648.6)"/>
<ellipse class="m" cx="409" cy="648.6" rx="11" ry="21" transform="rotate(11 409 648.6)"/>
<circle class="k" cx="418" cy="660.5" r="2.2"/>
<path class="m" d="M438.6 614.3 C439.8 615.3 443.9 617.4 445.7 620.4 C447.4 623.5 449.2 629.4 449.2 632.8 C449.2 636.1 446.2 639.4 445.7 640.7"/>
<path class="m" d="M443.9 608.1 C445.4 610.2 450.9 616.0 452.7 620.4 C454.5 624.8 454.8 629.8 454.5 634.5 C454.2 639.2 451.5 646.3 450.9 648.6"/>
<path class="h" d="M430.7 641.6 C431.7 640.7 433.2 639.5 435.1 638.9 C437.0 638.3 440.5 637.8 442.1 638.0 C443.7 638.3 445.4 639.8 444.8 640.7 C444.2 641.6 440.5 642.2 438.6 643.3 C436.7 644.5 434.8 647.0 433.3 647.7 C431.9 648.5 430.5 648.3 429.8 647.7 C429.1 647.1 428.8 645.2 428.9 644.2 C429.1 643.2 429.7 642.4 430.7 641.6Z"/>
<circle class="k" cx="436" cy="642" r="1.6"/>
<path class="m" d="M454.5 587.9 C455.5 586.9 461.4 588.8 463.3 590.5 C465.1 592.2 466.4 597.0 465.4 597.9 C464.3 598.8 458.9 597.8 457.1 596.1 C455.3 594.5 453.4 588.8 454.5 587.9Z"/>
<path class="m" d="M435.1 576.4 C436.8 577.0 442.4 578.0 445.7 579.9 C448.9 581.8 453.0 586.5 454.5 587.9"/>
<circle class="h w" cx="448.300" cy="660.500" r="5.500"/>
<path class="k" d="M437.7 653.9 C438.6 653.7 442.0 651.5 443.0 653.0 C444.0 654.5 444.6 661.1 443.9 662.7 C443.2 664.3 439.5 662.7 438.6 662.7Z"/>
<path class="n" d="M447.8 657.8 C447.5 658.1 446.2 659.2 446.2 660.1 C446.2 660.9 447.5 662.3 447.8 662.7"/>
<ellipse class="h" cx="391" cy="674" rx="1.800" ry="2.800"/>
<path class="h" d="M399.0 681.9 C401.5 681.7 409.7 680.6 414.0 680.2 C418.2 679.7 421.3 681.2 424.5 679.3 C427.8 677.4 431.1 672.0 433.3 668.7 C435.5 665.5 437.0 661.4 437.7 659.9"/>
<path class="h" d="M398.1 693.7 C400.2 693.2 406.9 691.2 410.4 690.2 C414.0 689.3 416.3 689.3 419.2 688.1 C422.2 686.9 424.8 685.5 428.0 682.8 C431.3 680.2 435.7 674.9 438.6 672.3 C441.5 669.6 444.5 667.9 445.7 667.0"/>
<path class="m" d="M399.9 688.1 C402.2 687.7 410.1 686.2 414.0 685.5 C417.8 684.7 421.3 684.0 422.8 683.7"/>
<circle class="h w" cx="393" cy="688.500" r="5.800"/>
<path class="k" d="M379.6 681.1 C380.7 680.9 384.9 678.6 386.1 680.2 C387.4 681.8 388.0 689.0 387.2 690.8 C386.4 692.5 382.3 690.8 381.4 690.8Z"/>
<path class="n" d="M393.7 685.5 C393.4 685.9 391.9 687.2 391.9 688.1 C391.9 689.0 393.4 690.3 393.7 690.8"/>
<path class="m" d="M403.4 707.5 C403.4 704.5 403.1 702.0 404.3 700.4 C405.4 698.8 408.8 697.5 410.4 697.8 C412.0 698.1 413.5 700.3 414.0 702.2 C414.4 704.1 412.8 710.1 413.1 709.2 C413.4 708.4 414.5 699.6 415.7 696.9 C416.9 694.3 418.7 693.4 420.1 693.4 C421.6 693.4 423.9 694.9 424.5 696.9 C425.1 699.0 423.6 703.1 423.6 705.7 C423.6 708.4 425.5 710.7 424.5 712.8 C423.5 714.8 419.8 716.7 417.5 718.0 C415.1 719.4 412.6 720.7 410.4 720.7 C408.2 720.7 405.4 720.2 404.3 718.0 C403.1 715.8 403.4 710.4 403.4 707.5Z"/>
<path class="m" d="M406.9 709.2 C407.2 709.8 407.8 712.5 408.7 712.8 C409.6 713.1 411.6 711.3 412.2 711.0"/>
<path class="m" d="M417.5 704.0 C417.8 704.7 418.5 707.9 419.2 708.4 C420.0 708.8 421.4 706.9 421.9 706.6"/>
<path class="m" d="M415.7 689.9 L417.5 697.8"/>
<path class="m" d="M421.9 689.0 L422.8 695.2"/>
<path class="h" d="M424.5 710.1 C426.3 710.6 432.2 712.8 435.1 712.8 C438.0 712.7 440.4 711.1 442.1 709.6 C443.9 708.1 443.3 707.5 445.7 704.0 C448.0 700.4 453.3 693.7 456.2 688.1 C459.2 682.5 461.4 677.3 463.3 670.5 C465.1 663.8 466.5 651.4 467.1 647.6"/>
<path class="m" d="M441.3 707.5 C442.6 705.7 446.8 701.0 449.2 696.9 C451.5 692.8 453.9 688.1 455.3 682.8 C456.8 677.5 457.5 668.2 458.0 665.2"/>
<path class="m" d="M392.8 696.9 C393.7 698.1 396.3 702.2 398.1 704.0 C399.9 705.7 402.5 706.9 403.4 707.5"/>
<path class="h" d="M396.3 716.3 L399.9 718.0"/>
</g>
<!-- bolt15 -->
<g id="bolt15">
<path class="m" d="M320.6 565.0 L337.5 569.4"/>
<path class="m" d="M320.6 570.6 L337.5 574.4"/>
<ellipse class="h w" cx="340.6" cy="572" rx="2.8" ry="4.2"/>
<path d="M344 571.5 L364 574.5" stroke="#111" stroke-width="4" stroke-linecap="round"/>
</g>
<!--/P7-->
<!--P8-->
<!-- drum -->
<g id="drum">
<path class="h" d="M597.5 596.9 C596.2 595.9 593.3 592.7 590.0 590.6 C586.7 588.5 582.1 585.9 577.5 584.4 C572.9 582.9 567.1 582.0 562.5 581.9 C557.9 581.8 553.8 582.6 550.0 583.8 C546.2 584.9 544.1 586.0 540.0 588.8 C535.9 591.5 530.3 594.6 525.3 600.3 C520.3 606.0 514.8 614.6 510.2 623.0 C505.6 631.3 500.8 641.0 497.6 650.6 C494.5 660.3 492.2 670.8 491.3 680.8 C490.5 690.9 490.7 701.8 492.6 711.0 C494.5 720.2 498.5 729.7 502.6 736.2 C506.8 742.6 512.3 746.4 517.7 749.9 C523.1 753.4 530.1 756.3 535.3 757.4 C540.5 758.5 546.7 756.6 549.0 756.5"/>
<path class="h" d="M549.0 756.5 C551.8 756.6 559.8 757.0 565.5 757.4 C571.2 757.8 577.2 759.5 583.1 758.7 C589.0 757.9 594.8 756.2 600.7 752.4 C606.6 748.6 613.0 742.5 618.3 736.0 C623.5 729.5 628.6 722.2 632.2 713.4 C635.8 704.6 638.5 693.3 639.7 683.2 C640.9 673.1 639.9 661.0 639.5 653.0 C639.1 645.0 638.7 640.1 637.5 635.0 C636.3 629.9 634.6 626.2 632.5 622.5 C630.4 618.8 627.9 615.4 625.0 612.5 C622.1 609.6 618.8 607.1 615.0 605.0 C611.2 602.9 606.5 601.4 602.5 600.0 C598.5 598.6 594.8 598.0 591.2 596.9 C587.7 595.8 582.9 593.7 581.2 593.1"/>
<path class="m" d="M565.5 587.7 C562.2 588.6 551.7 589.4 545.4 592.8 C539.1 596.1 533.2 601.2 527.8 607.9 C522.3 614.6 516.9 623.8 512.7 633.0 C508.5 642.2 504.9 653.6 502.6 663.2 C500.3 672.9 498.9 681.2 498.9 690.9 C498.9 700.5 500.3 712.7 502.6 721.1 C504.9 729.5 511.0 737.8 512.7 741.2"/>
<path class="m" d="M558.0 595.3 C555.5 597.2 547.5 602.0 542.9 606.6 C538.3 611.2 534.5 615.6 530.3 623.0 C526.1 630.3 520.9 641.8 517.7 650.6 C514.6 659.4 512.7 667.4 511.4 675.8 C510.2 684.2 509.6 692.6 510.2 700.9 C510.8 709.3 512.7 719.0 515.2 726.1 C517.7 733.2 523.6 740.8 525.3 743.7" stroke-dasharray="38 4 22 5 40 4"/>
<path class="n" d="M521.5 612.9 C519.4 617.1 512.5 629.7 508.9 638.1 C505.4 646.4 501.6 659.0 500.1 663.2"/>
<path class="m" d="M600.8 606.6 C597.4 607.7 586.9 608.9 580.6 612.9 C574.3 616.9 568.1 623.4 563.0 630.5 C558.0 637.6 553.8 647.3 550.4 655.7 C547.1 664.0 544.4 672.4 542.9 680.8 C541.4 689.2 540.8 697.6 541.6 706.0 C542.5 714.4 546.4 722.4 547.9 731.1 C549.5 739.8 550.4 753.7 550.9 758.3" stroke-dasharray="30 4 50 4 24 5"/>
<path class="m" d="M610.8 619.0 C613.3 622.1 622.1 630.5 625.9 637.9 C629.7 645.2 632.1 654.7 633.4 663.1 C634.6 671.5 634.6 679.8 633.4 688.2 C632.1 696.6 629.2 705.9 625.9 713.4 C622.5 720.9 618.3 728.0 613.3 733.5 C608.3 739.0 601.6 743.4 595.7 746.1 C589.8 748.8 581.0 749.3 578.1 749.9" stroke-dasharray="44 4 30 5"/>
<path class="m" d="M598.2 630.5 C593.2 630.7 585.7 631.3 580.6 635.5 C575.6 639.7 571.2 648.1 568.1 655.7 C564.9 663.2 562.9 673.3 561.8 680.8 C560.6 688.4 560.4 695.1 561.0 700.9 C561.6 706.8 562.3 711.0 565.5 716.0 C568.8 721.1 574.8 729.9 580.6 731.1 C586.5 732.4 594.9 727.8 600.8 723.6 C606.6 719.4 612.3 713.9 615.8 706.0 C619.4 698.0 621.3 685.0 622.1 675.8 C623.0 666.6 622.8 657.5 620.9 650.6 C619.0 643.7 614.6 637.6 610.8 634.3 C607.0 630.9 603.3 630.3 598.2 630.5Z" stroke-dasharray="14 4 20 3"/>
<path class="m" d="M547.4 711.0 C547.9 713.9 548.9 723.4 550.4 728.6 C552.0 733.9 555.7 740.1 556.7 742.5"/>
<path class="m" d="M555.0 713.5 C555.5 716.2 556.4 725.2 558.0 729.9 C559.5 734.6 563.2 739.7 564.3 741.7"/>
<path class="n" d="M566.8 625.5 C568.7 623.9 574.1 618.4 578.1 615.9 C582.1 613.4 588.6 611.3 590.7 610.4" stroke-dasharray="6 3"/>
<ellipse class="h" cx="593.5" cy="680.8" rx="11.3" ry="19.3" transform="rotate(13 593.5 680.8)"/>
<path class="n" d="M600.8 664.5 C601.5 665.5 604.5 668.7 605.3 670.8 C606.0 672.9 605.3 676.0 605.3 677.0"/>
<ellipse class="k" cx="613.3" cy="648.1" rx="1.8" ry="3.2" transform="rotate(15 613.3 648.1)"/>
<ellipse class="k" cx="573.1" cy="664.5" rx="1.8" ry="3.2" transform="rotate(15 573.1 664.5)"/>
<ellipse class="k" cx="609.6" cy="700.9" rx="1.8" ry="3.2" transform="rotate(15 609.6 700.9)"/>
<ellipse class="k" cx="571.8" cy="714.8" rx="1.8" ry="3.2" transform="rotate(15 571.8 714.8)"/>
<circle class="k" cx="603.3" cy="658.2" r="1.4"/>
<circle class="k" cx="581.9" cy="706.0" r="1.4"/>
</g>
<!--/P8-->
<!--P9-->
<!-- bolt 120 TR -->
<g id="bolt120tr">
<path d="M430.9 142.1 L404.2 160.4" stroke="#111" stroke-width="8.4" stroke-linecap="round" fill="none"/><path d="M430.9 142.1 L404.2 160.4" stroke="#fff" stroke-width="4.4" stroke-linecap="round" fill="none"/>
<path class="n" d="M407.0 157.2 C408.1 156.5 411.6 154.0 413.3 152.8 C415.1 151.7 417.0 150.7 417.7 150.3"/>
<path class="n" d="M408.3 155.3 L410.2 157.2"/><path class="n" d="M410.8 153.8 L412.7 155.7"/><path class="n" d="M413.3 152.2 L415.2 154.1"/>
<path class="h" d="M423.4 136.7 C424.2 135.8 426.2 132.4 428.4 131.4 C430.6 130.5 434.2 130.3 436.6 130.8 C439.0 131.3 441.6 133.2 442.9 134.6 C444.2 136.0 444.7 137.4 444.4 139.0 C444.1 140.6 441.9 142.5 441.0 144.0 C440.1 145.6 440.3 147.4 439.1 148.4 C438.0 149.5 435.6 150.4 434.1 150.3 C432.6 150.3 430.9 148.4 430.3 148.1"/>
<path class="m" d="M424.0 137.7 C424.4 137.2 425.3 135.2 426.5 134.6 C427.8 134.0 430.1 133.6 431.6 134.0 C433.0 134.3 434.5 135.4 435.3 136.5 C436.2 137.5 436.6 139.0 436.6 140.3 C436.6 141.5 435.6 143.0 435.1 144.0 C434.6 145.1 433.7 146.1 433.5 146.5"/>
<path class="m" d="M438.5 133.0 C439.0 133.8 441.3 136.1 441.6 137.7 C441.9 139.4 440.6 141.9 440.4 142.8"/>
</g>
<!--/P9-->
<!--P3B-->
<!-- caliper -->
<g id="caliper2">
<path class="h" d="M165.0 358.8 C165.2 358.1 165.7 355.7 166.6 354.7 C167.6 353.8 169.3 353.1 170.7 353.1 C172.1 353.1 173.8 354.3 174.8 354.7 C175.7 355.1 174.6 355.1 176.4 355.5 C178.2 355.9 183.5 356.2 185.4 357.2 C187.3 358.1 187.3 360.0 187.9 361.3 C188.5 362.5 188.3 364.0 189.0 364.5 C189.7 365.1 191.2 365.2 192.0 364.5 C192.7 363.8 192.6 361.7 193.6 360.4 C194.5 359.2 195.2 357.9 197.7 357.2 C200.1 356.5 205.3 355.7 208.3 356.4 C211.3 357.0 214.0 359.8 215.7 361.3 C217.3 362.8 216.6 363.0 218.1 365.3 C219.6 367.7 223.0 371.8 224.7 375.2 C226.3 378.5 227.8 382.1 227.9 385.5 C228.1 388.9 226.3 391.7 225.5 395.6 C224.7 399.5 222.9 404.3 223.0 408.7 C223.2 413.0 225.5 418.0 226.3 421.8 C227.1 425.6 228.6 428.4 227.9 431.6 C227.2 434.7 224.1 438.1 222.2 440.6 C220.3 443.0 218.7 444.5 216.5 446.3 C214.3 448.1 211.3 449.3 209.1 451.2 C206.9 453.1 206.3 456.2 203.4 457.7 C200.5 459.2 195.2 460.3 192.0 460.2 C188.7 460.1 186.5 457.9 183.8 456.9 C181.1 456.0 178.3 455.7 175.6 454.5 C172.9 453.2 169.5 452.0 167.4 449.6 C165.4 447.1 164.0 441.4 163.3 439.8"/>
<path class="h" d="M165.0 358.8 C165.2 359.8 165.9 362.9 166.6 364.5 C167.3 366.2 169.5 366.2 169.1 368.6 C168.7 371.1 165.4 375.3 164.2 379.2 C162.9 383.2 162.2 387.4 161.7 392.3 C161.2 397.2 160.9 403.2 160.9 408.7 C160.9 414.1 161.3 419.9 161.7 425.0 C162.1 430.2 163.1 437.3 163.3 439.8"/>
<path class="m" d="M169.9 355.5 C169.6 356.4 168.3 358.5 168.4 360.4 C168.5 362.3 170.3 365.9 170.7 367.0"/>
<path class="m" d="M175.6 356.4 C175.5 357.3 174.6 360.4 174.8 362.1 C174.9 363.7 176.1 365.5 176.4 366.2"/>
<path class="m" d="M192.0 364.5 C192.1 365.8 190.3 369.6 192.8 371.9 C195.2 374.2 203.3 376.1 206.7 378.4 C210.1 380.8 212.1 384.8 213.2 386.1"/>
<path class="m" d="M194.4 368.1 C194.7 367.0 194.8 362.9 196.0 361.6 C197.3 360.3 199.6 360.4 201.8 360.4 C203.9 360.5 207.6 361.1 209.1 362.1 C210.7 363.1 211.1 364.7 211.1 366.5 C211.1 368.3 209.5 371.7 209.1 372.7"/>
<path class="h" d="M184.6 372.7 L205.0 382.5"/>
<path class="m" d="M180.5 377.6 L205.0 387.8"/>
<path class="m" d="M211.9 364.5 C212.4 366.4 213.8 373.4 214.8 375.7 C215.9 377.9 217.6 377.6 218.1 377.9"/>
<path class="m" d="M214.0 377.9 L211.6 389.1"/>
<path class="m" d="M217.3 377.9 C218.1 379.5 221.9 384.2 222.2 387.4 C222.5 390.6 219.8 393.4 218.9 397.2 C218.1 401.1 217.0 405.7 217.3 410.3 C217.6 415.0 220.2 420.6 220.6 425.0 C221.0 429.5 219.9 434.8 219.8 436.8"/>
<path class="m" d="M210.8 389.1 C211.4 390.3 214.5 393.7 214.4 396.4 C214.2 399.1 210.7 403.9 209.9 405.4"/>
<path class="h" d="M208.3 403.0 C206.9 404.5 201.2 408.8 200.1 412.0 C199.0 415.1 200.4 419.6 201.8 421.8 C203.1 423.9 207.8 422.9 208.3 425.0 C208.9 427.2 204.6 432.7 205.0 434.8 C205.4 437.0 209.8 437.6 210.8 438.1"/>
<path class="m" d="M209.6 404.6 L209.1 425.0"/>
<path class="m" d="M167.4 380.9 C167.0 385.0 165.0 397.0 165.0 405.4 C165.0 413.9 167.0 427.2 167.4 431.6"/>
<path class="m" d="M172.3 389.1 C171.8 392.3 169.3 402.1 169.1 408.7 C168.8 415.2 170.4 425.0 170.7 428.3"/>
<path class="m" d="M188.7 390.7 C188.1 394.5 185.7 406.0 185.4 413.6 C185.1 421.2 186.8 432.7 187.0 436.5"/>
<path class="m" d="M196.0 390.7 C195.4 394.5 192.2 405.7 192.0 413.6 C191.7 421.5 194.0 434.0 194.4 438.1"/>
<path class="m" d="M174.8 400.5 C175.9 400.9 180.4 401.3 181.3 403.0 C182.3 404.6 181.5 409.1 180.5 410.3 C179.6 411.5 176.4 410.3 175.6 410.3"/>
<path class="h" d="M167.4 449.6 C167.7 448.3 168.0 443.7 169.1 442.2 C170.1 440.7 172.7 440.4 174.0 440.6 C175.2 440.7 175.9 440.9 176.4 443.0 C177.0 445.1 177.1 451.5 177.2 453.2"/>
<path class="h" d="M183.0 454.8 C183.2 453.7 183.1 448.5 184.6 447.9 C186.1 447.3 189.1 451.2 192.0 451.2 C194.8 451.2 199.6 449.4 201.8 447.9 C203.9 446.4 203.4 443.8 205.0 442.2 C206.7 440.6 209.7 437.4 211.6 438.1 C213.5 438.8 215.7 444.9 216.5 446.3"/>
<path class="m" d="M174.0 440.6 L183.8 447.1"/>
<path class="n" d="M192.0 451.2 L192.0 460.2"/>
<path class="n" d="M201.8 447.9 L203.4 457.7"/>
<path class="m" d="M159.2 392.3 C158.2 392.3 154.2 391.6 152.7 392.3 C151.2 393.0 151.6 396.0 150.3 396.4 C148.9 396.8 146.6 394.6 144.5 394.8 C142.5 394.9 138.7 396.4 138.0 397.2 C137.3 398.1 138.7 399.6 140.4 400.0 C142.2 400.5 147.3 399.9 148.6 399.9"/>
<path class="m" d="M150.3 396.4 C150.2 397.2 149.6 399.6 149.8 400.8 C150.0 402.1 151.1 403.6 151.4 404.1"/>
<path class="m" d="M152.7 394.0 L152.7 405.4"/>
<path class="m" d="M156.8 392.7 L156.8 407.0"/>
<path class="m" d="M141.3 405.4 C140.6 406.0 137.4 407.3 137.2 408.7 C136.9 410.0 138.3 412.2 139.6 413.6 C141.0 415.0 143.2 415.5 145.3 416.9 C147.5 418.2 150.7 419.9 152.7 421.8 C154.8 423.7 156.7 425.9 157.6 428.3 C158.6 430.8 158.3 435.1 158.4 436.5"/>
<path class="m" d="M141.3 405.4 C141.8 406.5 142.9 410.3 144.5 412.0 C146.2 413.6 148.9 413.9 151.1 415.2 C153.3 416.6 155.8 418.4 157.6 420.1 C159.4 421.9 161.0 424.9 161.7 425.9"/>
<path class="m" d="M124.1 438.1 C125.9 438.4 131.3 439.8 134.7 439.8 C138.1 439.8 141.8 438.5 144.5 438.1 C147.3 437.7 150.0 437.4 151.1 437.3"/>
<path class="m" d="M123.3 443.0 C125.5 443.4 132.5 444.8 136.4 445.0 C140.2 445.2 143.4 444.0 146.2 444.0 C148.9 444.0 151.6 444.8 152.7 445.0"/>
<path class="m" d="M151.1 437.3 L164.2 440.1"/>
<path class="m" d="M152.7 445.0 L165.8 449.2"/>
<path class="h" d="M151.4 437.5 L153.0 445.0"/>
<path class="h" d="M155.2 437.8 L157.3 446.3"/>
<path class="h" d="M159.2 438.4 L161.7 447.6"/>
<path class="h" d="M162.8 439.8 L166.1 449.2"/>
</g>
<!--/P3B-->
<!--PARTS-->
</g>
</svg>
</body></html>
